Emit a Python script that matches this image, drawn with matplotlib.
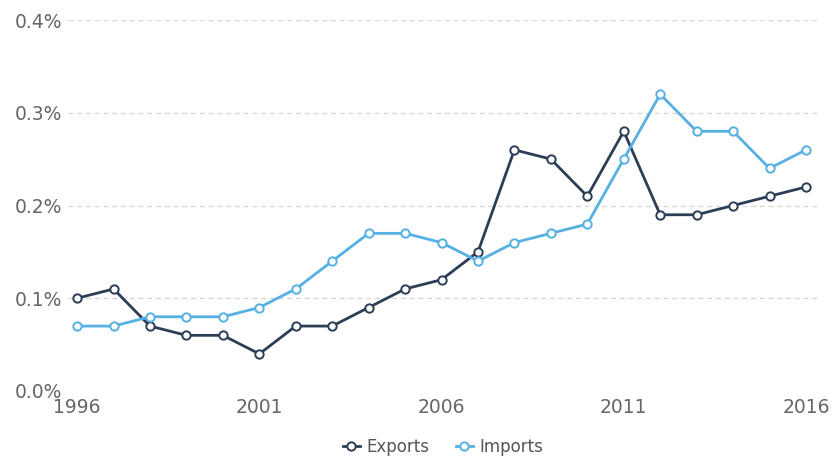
import matplotlib.pyplot as plt
from matplotlib.ticker import FuncFormatter

years = list(range(1996, 2017))
exports = [0.10, 0.11, 0.07, 0.06, 0.06, 0.04, 0.07, 0.07, 0.09, 0.11, 0.12,
           0.15, 0.26, 0.25, 0.21, 0.28, 0.19, 0.19, 0.20, 0.21, 0.22]
imports = [0.07, 0.07, 0.08, 0.08, 0.08, 0.09, 0.11, 0.14, 0.17, 0.17, 0.16,
           0.14, 0.16, 0.17, 0.18, 0.25, 0.32, 0.28, 0.28, 0.24, 0.26]
yticks = [0.0, 0.1, 0.2, 0.3, 0.4]
xticks = [1996, 2001, 2006, 2011, 2016]

fig = plt.figure(figsize=(8.33, 4.57), dpi=100)
ax = fig.add_axes([68 / 833, 1 - 391 / 457, 750 / 833, 371 / 457])

# grid first so the lines sit on top
for yv in yticks:
    ax.axhline(yv, color='#d6d6d6', linestyle=(0, (4, 3)), linewidth=0.9, zorder=0)

exp_color = '#2c3e56'
imp_color = '#55b0e3'
ax.plot(years, exports, color=exp_color, linewidth=2, marker='o', markersize=6,
        markerfacecolor='white', markeredgecolor=exp_color, markeredgewidth=1.4,
        label='Exports', clip_on=False, zorder=3)
ax.plot(years, imports, color=imp_color, linewidth=2, marker='o', markersize=6,
        markerfacecolor='white', markeredgecolor=imp_color, markeredgewidth=1.4,
        label='Imports', clip_on=False, zorder=3)

ax.set_xlim(1995.75, 2016.33)
ax.set_ylim(0, 0.4)
ax.set_yticks(yticks)
ax.set_xticks(xticks)
ax.yaxis.set_major_formatter(FuncFormatter(lambda v, p: '{:.1f}%'.format(v)))
ax.tick_params(length=0, labelsize=13.5, colors='#666666')
ax.tick_params(axis='y', pad=4)
ax.tick_params(axis='x', pad=5)
for s in ax.spines.values():
    s.set_visible(False)

leg = fig.legend(loc='center', bbox_to_anchor=(443 / 833, 10 / 457), ncol=2,
                 frameon=False, fontsize=12, handlelength=1.0,
                 columnspacing=1.6, handletextpad=0.4)
for t in leg.get_texts():
    t.set_color('#555555')

fig.savefig('out.png', dpi=100)
